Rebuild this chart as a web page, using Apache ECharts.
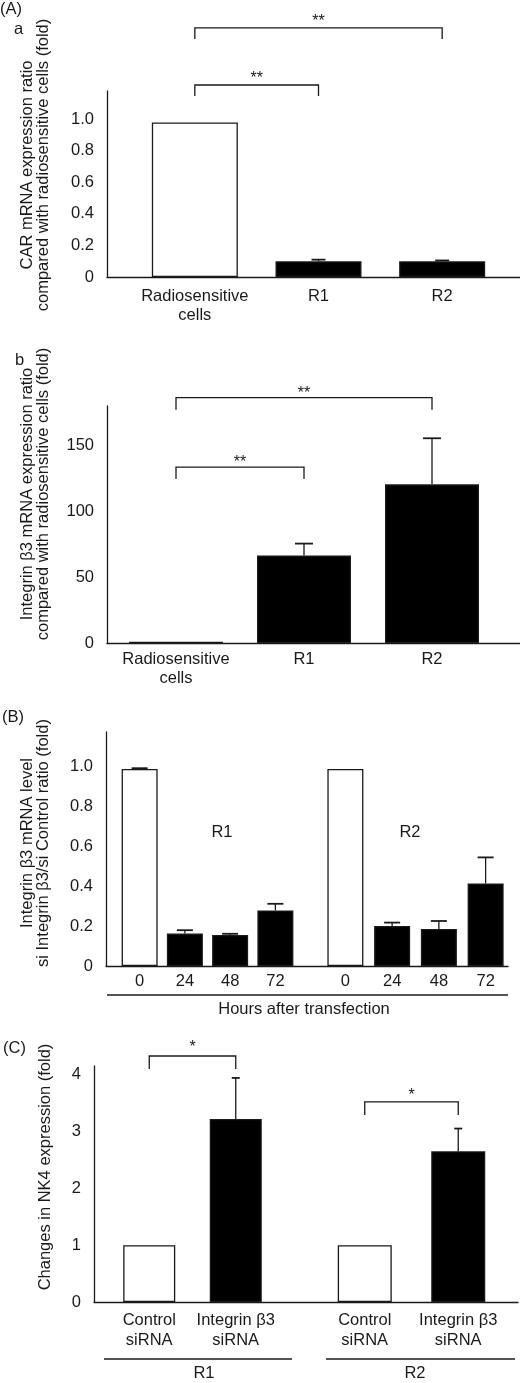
<!DOCTYPE html>
<html><head><meta charset="utf-8">
<script src="https://cdn.jsdelivr.net/npm/echarts@6/dist/echarts.min.js"></script>
<style>html,body{margin:0;padding:0;background:#fff}#c{width:520px;height:1383px}</style>
</head><body><div id="c"></div>
<script>
// ---------- Panel (A)a : CAR mRNA ----------
const aaCategories = ['Radiosensitive\ncells', 'R1', 'R2'];
const aaValues = [0.98, 0.10, 0.10];
const aaErrors = [0, 0.01, 0.005];
const aaTicks = ['0', '0.2', '0.4', '0.6', '0.8', '1.0'];
const aaBrackets = [[0, 2, 1.58, '**'], [0, 1, 1.218, '**']];

// ---------- Panel (A)b : Integrin β3 mRNA ----------
const abCategories = ['Radiosensitive\ncells', 'R1', 'R2'];
const abValues = [1, 66.5, 120.5];
const abErrors = [0, 9, 35];
const abTicks = ['0', '50', '100', '150'];
const abBrackets = [[0, 2, 186.3, '**'], [0, 1, 133.6, '**']];

// ---------- Panel (B) : knockdown time course ----------
const bHours = ['0', '24', '48', '72'];
const bR1Values = [0.985, 0.162, 0.155, 0.278];
const bR1Errors = [0.004, 0.017, 0.006, 0.033];
const bR2Values = [0.985, 0.20, 0.185, 0.413];
const bR2Errors = [0, 0.017, 0.04, 0.13];
const bTicks = ['0', '0.2', '0.4', '0.6', '0.8', '1.0'];

// ---------- Panel (C) : NK4 expression ----------
const cCategories = ['Control\nsiRNA', 'Integrin β3\nsiRNA'];
const cR1Values = [1, 3.22];
const cR1Errors = [0, 0.72];
const cR2Values = [1, 2.65];
const cR2Errors = [0, 0.40];
const cTicks = ['0', '1', '2', '3', '4'];
const cR1Brackets = [[0, 1, 4.326, '*']];
const cR2Brackets = [[0, 1, 3.518, '*']];

// ---------- rendering ----------
const FONT = '"Liberation Sans", Arial, Helvetica, sans-serif';
const FS = 16.5;
const INK = '#1a1a1a';
const LW = 1.3;
const grids = [], xAxes = [], yAxes = [], series = [];

function tickFormatter(ticks, digits) {
  return function (v) {
    const s = (Math.abs(v) < 1e-9) ? '0' : (digits ? v.toFixed(digits) : String(Math.round(v)));
    if (Math.abs(v - parseFloat(s)) > 1e-6) return '';
    return ticks.indexOf(s) >= 0 ? s : '';
  };
}

function frame(box, yMax, interval, ticks, digits) {
  const gi = grids.length;
  grids.push({left: box.left, top: box.top, width: box.width, height: box.height, containLabel: false, outerBoundsMode: 'none'});
  xAxes.push({gridIndex: gi, type: 'value', min: 0, max: 1, axisLine: {show: true, onZero: false, lineStyle: {color: INK, width: LW}},
    axisTick: {show: false}, axisLabel: {show: false}, splitLine: {show: false}});
  yAxes.push({gridIndex: gi, type: 'value', min: 0, max: yMax, interval: interval,
    axisLine: {show: true, onZero: false, lineStyle: {color: INK, width: LW}},
    axisTick: {show: false}, splitLine: {show: false},
    axisLabel: {fontSize: FS, color: INK, fontFamily: FONT, margin: 13, formatter: tickFormatter(ticks, digits), showMaxLabel: true, showMinLabel: true}});
}

function dataGrid(box, yMax, cats, values, errors, o) {
  const gi = grids.length;
  grids.push({left: box.left, top: box.top, width: box.width, height: box.height, containLabel: false, outerBoundsMode: 'none'});
  const xi = xAxes.length;
  xAxes.push({gridIndex: gi, type: 'category', data: cats, axisLine: {show: false}, axisTick: {show: false}, splitLine: {show: false},
    axisLabel: {interval: 0, fontSize: FS, color: INK, fontFamily: FONT, margin: o.labelMargin, lineHeight: o.lineHeight, hideOverlap: false}});
  const yi = yAxes.length;
  yAxes.push({gridIndex: gi, type: 'value', min: 0, max: yMax, show: false, splitLine: {show: false}});
  series.push({type: 'bar', xAxisIndex: xi, yAxisIndex: yi, barWidth: o.barWidth, z: 2,
    data: values.map((v, i) => ({value: v, itemStyle: {color: i === 0 ? '#ffffff' : '#000000'}})),
    itemStyle: {borderColor: INK, borderWidth: LW}});
  const cap = o.cap;
  series.push({type: 'custom', xAxisIndex: xi, yAxisIndex: yi, z: 3, clip: false,
    data: values.map((v, i) => [i, v, errors[i]]).filter(d => d[2] > 0),
    encode: {x: 0, y: 1},
    renderItem: function (params, api) {
      const i = api.value(0), v = api.value(1), e = api.value(2);
      const p0 = api.coord([i, v]), p1 = api.coord([i, v + e]);
      return {type: 'group', children: [
        {type: 'line', shape: {x1: p0[0], y1: p0[1], x2: p1[0], y2: p1[1]}, style: {stroke: INK, lineWidth: LW}},
        {type: 'line', shape: {x1: p1[0] - cap, y1: p1[1], x2: p1[0] + cap, y2: p1[1]}, style: {stroke: INK, lineWidth: 1.8}}
      ]};
    }});
  if (o.brackets) {
    const br = o.brackets;
    series.push({type: 'custom', xAxisIndex: xi, yAxisIndex: yi, z: 4, clip: false,
      data: br.map(b => [b[0], b[1], b[2]]),
      encode: {x: 0, y: 2},
      renderItem: function (params, api) {
        const a = api.coord([api.value(0), api.value(2)]);
        const b = api.coord([api.value(1), api.value(2)]);
        const y = a[1];
        return {type: 'group', children: [
          {type: 'polyline', shape: {points: [[a[0], y + o.drop], [a[0], y], [b[0], y], [b[0], y + o.drop]]},
            style: {stroke: INK, fill: null, lineWidth: LW}},
          {type: 'text', x: (a[0] + b[0]) / 2, y: y + o.starOffset,
            style: {text: br[params.dataIndex][3], font: '16px ' + FONT, fill: INK, align: 'center', verticalAlign: 'middle'}}
        ]};
      }});
  }
}

// (A)a
frame({left: 107, top: 91, width: 413, height: 186}, 1.18, 0.2, aaTicks, 1);
dataGrid({left: 133, top: 91, width: 371, height: 186}, 1.18, aaCategories, aaValues, aaErrors,
  {barWidth: 86, labelMargin: 10, lineHeight: 19, cap: 7, brackets: aaBrackets, drop: 11, starOffset: -6});
// (A)b
frame({left: 107, top: 406, width: 413, height: 237}, 180, 50, abTicks, 0);
dataGrid({left: 112, top: 406, width: 384, height: 237}, 180, abCategories, abValues, abErrors,
  {barWidth: 94, labelMargin: 7, lineHeight: 19, cap: 9, brackets: abBrackets, drop: 12, starOffset: -4});
// (B)
frame({left: 106, top: 732, width: 402, height: 234}, 1.17, 0.2, bTicks, 1);
dataGrid({left: 117, top: 732, width: 181, height: 234}, 1.17, bHours, bR1Values, bR1Errors,
  {barWidth: 36, labelMargin: 6, lineHeight: 19, cap: 8});
dataGrid({left: 322, top: 732, width: 187, height: 234}, 1.17, bHours, bR2Values, bR2Errors,
  {barWidth: 36, labelMargin: 6, lineHeight: 19, cap: 8});
// (C)
frame({left: 94, top: 1066, width: 424, height: 236}, 4.15, 1, cTicks, 0);
dataGrid({left: 106, top: 1066, width: 173, height: 236}, 4.15, cCategories, cR1Values, cR1Errors,
  {barWidth: 52, labelMargin: 8, lineHeight: 20, cap: 4, brackets: cR1Brackets, drop: 13, starOffset: -8});
dataGrid({left: 318, top: 1066, width: 187, height: 236}, 4.15, cCategories, cR2Values, cR2Errors,
  {barWidth: 54, labelMargin: 8, lineHeight: 20, cap: 4, brackets: cR2Brackets, drop: 13, starOffset: -6});

function txt(x, y, text, extra) {
  return Object.assign({type: 'text', x: x, y: y, z: 10,
    style: Object.assign({text: text, font: FS + 'px ' + FONT, fill: INK, align: 'center', verticalAlign: 'middle', lineHeight: 16}, extra || {})});
}
function vtxt(x, y, text) {
  const t = txt(x, y, text);
  t.rotation = Math.PI / 2;
  return t;
}
function hline(x1, x2, y) {
  return {type: 'line', z: 10, shape: {x1: x1, y1: y, x2: x2, y2: y}, style: {stroke: INK, lineWidth: LW}};
}

const graphic = [
  txt(0, 9, '(A)', {align: 'left'}),
  txt(14, 29, 'a', {align: 'left'}),
  txt(15, 360, 'b', {align: 'left'}),
  txt(2, 717, '(B)', {align: 'left'}),
  txt(3, 1048, '(C)', {align: 'left'}),
  vtxt(35, 165, 'CAR mRNA expression ratio\ncompared with radiosensitive cells (fold)'),
  vtxt(35, 494, 'Integrin β3 mRNA expression ratio\ncompared with radiosensitive cells (fold)'),
  vtxt(35, 843, 'Integrin β3 mRNA level\nsi Integrin β3/si Control ratio (fold)'),
  vtxt(45, 1167, 'Changes in NK4 expression (fold)'),
  txt(222, 832, 'R1'),
  txt(410, 832, 'R2'),
  hline(107, 508, 995),
  txt(304, 1009, 'Hours after transfection'),
  hline(104, 292, 1359),
  hline(326, 515, 1359),
  txt(204, 1373, 'R1'),
  txt(415, 1373, 'R2')
];

const chart = echarts.init(document.getElementById('c'), null, {renderer: 'canvas'});
chart.setOption({
  animation: false,
  backgroundColor: '#ffffff',
  textStyle: {fontFamily: FONT},
  grid: grids, xAxis: xAxes, yAxis: yAxes, series: series, graphic: graphic
});
</script></body></html>
